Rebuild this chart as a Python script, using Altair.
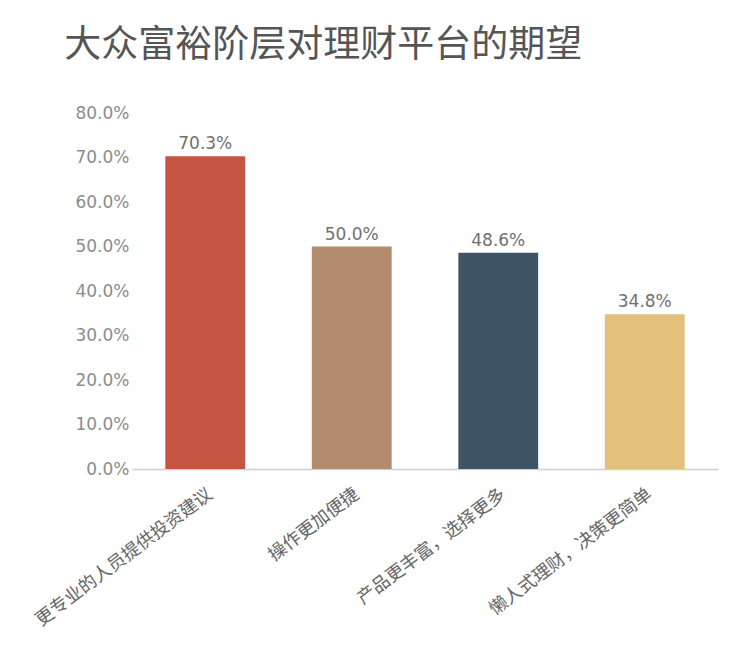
import altair as alt
import pandas as pd

categories = ["更专业的人员提供投资建议", "操作更加便捷", "产品更丰富，选择更多", "懒人式理财，决策更简单"]
values = [0.703, 0.500, 0.486, 0.348]
colors = ["#c65443", "#b58b6f", "#3f5565", "#e2c07c"]
y_ticks = [0.0, 0.1, 0.2, 0.3, 0.4, 0.5, 0.6, 0.7, 0.8]

df = pd.DataFrame({"cat": categories, "val": values, "color": colors})

x = alt.X("cat:N", sort=categories, title=None,
          scale=alt.Scale(paddingInner=0.455, paddingOuter=0.2275),
          axis=alt.Axis(labelAngle=-37, labelFont="Noto Sans CJK SC", labelFontSize=18,
                        labelColor="#666666", labelPadding=16, ticks=False,
                        domainColor="#d0d0d0", domainWidth=1.5, labelLimit=400))
y = alt.Y("val:Q", title=None, scale=alt.Scale(domain=[0, 0.8], nice=False),
          axis=alt.Axis(values=y_ticks, format=".1%", grid=False, domain=False, ticks=False,
                        labelFont="DejaVu Sans", labelFontSize=17, labelColor="#8c8c8c",
                        labelPadding=3))

bars = alt.Chart(df).mark_bar().encode(
    x=x, y=y, color=alt.Color("color:N", scale=None)
)
labels = alt.Chart(df).mark_text(baseline="bottom", dy=-3, font="DejaVu Sans",
                                 fontSize=17, color="#707070").encode(
    x=alt.X("cat:N", sort=categories),
    y="val:Q",
    text=alt.Text("val:Q", format=".1%"),
)

chart = (bars + labels).properties(
    width=586, height=356,
    title=alt.TitleParams("大众富裕阶层对理财平台的期望", anchor="start", dx=32, offset=39,
                          font="Noto Sans CJK SC", fontSize=37, fontWeight="normal",
                          color="#555555"),
    autosize=alt.AutoSizeParams(type="none"),
    padding={"left": 124, "top": 105, "right": 14, "bottom": 194},
).configure(background="white").configure_view(strokeWidth=0, stroke="transparent")

chart.save("out.html", embed_options={"renderer": "svg", "actions": False})
